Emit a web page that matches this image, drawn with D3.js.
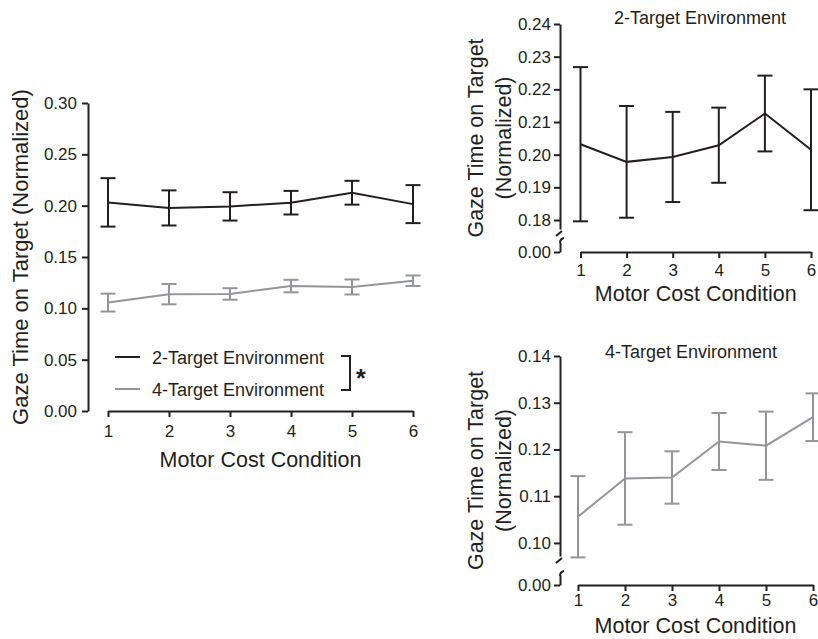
<!DOCTYPE html>
<html>
<head>
<meta charset="utf-8">
<script src="https://cdn.jsdelivr.net/npm/d3@7"></script>
<style>
  body { margin: 0; background: #fff; }
</style>
</head>
<body>
<script>
// data
var conditions = [1, 2, 3, 4, 5, 6];
var mean2 = [0.2032, 0.1978, 0.1993, 0.2029, 0.2126, 0.2015];
var err2  = [0.0236, 0.0171, 0.0138, 0.0115, 0.0116, 0.0185];
var mean4 = [0.1056, 0.1138, 0.1140, 0.1217, 0.1208, 0.1269];
var err4  = [0.0087, 0.0099, 0.0056, 0.0061, 0.0073, 0.0051];

var ticksLeft = [0, 0.05, 0.10, 0.15, 0.20, 0.25, 0.30];
var ticksTop = [0.18, 0.19, 0.20, 0.21, 0.22, 0.23, 0.24];
var ticksBottom = [0.10, 0.11, 0.12, 0.13, 0.14];

var black = "#231f20", grey = "#939598";
var font = "Liberation Sans, Arial, Helvetica, sans-serif";

var svg = d3.select("body").append("svg")
    .attr("width", 818)
    .attr("height", 639)
    .attr("font-family", font);

function series(m, e) {
  return conditions.map(function(c, i) { return {c: c, m: m[i], e: e[i]}; });
}

function label(g, txt, size) {
  return g.append("text")
      .attr("font-family", font)
      .attr("font-size", size)
      .attr("fill", black)
      .text(txt);
}

// draws a line with error bars
function drawSeries(g, data, x, y, color) {
  var line = d3.line()
      .x(function(d) { return x(d.c); })
      .y(function(d) { return y(d.m); });
  g.append("path")
      .datum(data)
      .attr("d", line)
      .attr("fill", "none")
      .attr("stroke", color)
      .attr("stroke-width", 2);

  var bars = g.selectAll(null).data(data).enter().append("g")
      .attr("stroke", color)
      .attr("stroke-width", 2);
  bars.append("line")
      .attr("x1", function(d) { return x(d.c); })
      .attr("x2", function(d) { return x(d.c); })
      .attr("y1", function(d) { return y(d.m - d.e); })
      .attr("y2", function(d) { return y(d.m + d.e); });
  [1, -1].forEach(function(s) {
    bars.append("line")
        .attr("x1", function(d) { return x(d.c) - 7.5; })
        .attr("x2", function(d) { return x(d.c) + 7.5; })
        .attr("y1", function(d) { return y(d.m + s * d.e); })
        .attr("y2", function(d) { return y(d.m + s * d.e); });
  });
}

function styleAxis(g, size) {
  g.selectAll("path, line").attr("stroke", black).attr("stroke-width", 2);
  g.selectAll("text").attr("font-family", font)
      .attr("font-size", size).attr("fill", black);
}

// ---------- left panel ----------
var xL = d3.scaleLinear().domain([1, 6]).range([108, 413]);
var yL = d3.scaleLinear().domain([0, 0.30]).range([411, 103]);

svg.append("g")
    .attr("transform", "translate(88,0)")
    .call(d3.axisLeft(yL).tickValues(ticksLeft).tickFormat(d3.format(".2f"))
      .tickSize(6).tickPadding(5).tickSizeOuter(0))
    .call(styleAxis, 17);

svg.append("g")
    .attr("transform", "translate(0,411)")
    .call(d3.axisBottom(xL).tickValues(conditions).tickFormat(d3.format("d"))
      .tickSize(6).tickPadding(8).tickSizeOuter(0))
    .call(styleAxis, 17);

drawSeries(svg.append("g"), series(mean2, err2), xL, yL, black);
drawSeries(svg.append("g"), series(mean4, err4), xL, yL, grey);

label(svg, "Gaze Time on Target (Normalized)", 22)
    .attr("transform", "translate(28,257) rotate(-90)")
    .attr("text-anchor", "middle");

label(svg, "Motor Cost Condition", 21.5)
    .attr("x", 260.5).attr("y", 467)
    .attr("text-anchor", "middle");

// legend
var legend = [{name: "2-Target Environment", color: black, y: 357},
              {name: "4-Target Environment", color: grey, y: 389}];
legend.forEach(function(d) {
  svg.append("line")
      .attr("x1", 115).attr("x2", 140)
      .attr("y1", d.y).attr("y2", d.y)
      .attr("stroke", d.color).attr("stroke-width", 2);
  label(svg, d.name, 18)
      .attr("x", 152).attr("y", d.y + 6.5);
});
svg.append("path")
    .attr("d", "M341,356 H350 V390 H341")
    .attr("fill", "none")
    .attr("stroke", black)
    .attr("stroke-width", 2);
label(svg, "*", 25)
    .attr("x", 356).attr("y", 387)
    .attr("font-weight", "bold");

// ---------- right panels (broken y axis) ----------
function brokenPanel(opt) {
  var g = svg.append("g");
  var x = d3.scaleLinear().domain([1, 6]).range(opt.xRange);
  var y = d3.scaleLinear().domain(opt.yDomain).range(opt.yRange);
  var yZero = d3.scaleLinear().domain([0, 1]).range([opt.zeroY, opt.zeroY - 10]);

  g.append("g")
      .attr("transform", "translate(560,0)")
      .call(d3.axisLeft(y).tickValues(opt.ticks).tickFormat(d3.format(".2f"))
        .tickSize(6).tickPadding(3).tickSizeOuter(0))
      .call(styleAxis, 17);
  g.append("g")
      .attr("transform", "translate(560,0)")
      .call(d3.axisLeft(yZero).tickValues([0]).tickFormat(d3.format(".2f"))
        .tickSize(6).tickPadding(3).tickSizeOuter(0))
      .call(styleAxis, 17);

  // break marks
  var yb = opt.yRange[0];
  g.append("path")
      .attr("d", "M556," + (yb + 7) + " L562," + (yb + 2))
      .attr("fill", "none").attr("stroke", black).attr("stroke-width", 2);
  g.append("path")
      .attr("d", "M560," + (opt.zeroY - 9) + " Q560," + (opt.zeroY - 13) + " 564," + (opt.zeroY - 14))
      .attr("fill", "none").attr("stroke", black).attr("stroke-width", 2);

  g.append("g")
      .attr("transform", "translate(0," + opt.zeroY + ")")
      .call(d3.axisBottom(x).tickValues(conditions).tickFormat(d3.format("d"))
        .tickSize(6).tickPadding(opt.xPad).tickSizeOuter(0))
      .call(styleAxis, 17);

  drawSeries(g.append("g"), opt.data, x, y, opt.color);

  label(g, opt.title, 18)
      .attr("x", opt.titleX).attr("y", opt.titleY)
      .attr("text-anchor", "middle");

  var cy = (opt.yRange[1] + opt.zeroY) / 2;
  label(g, "Gaze Time on Target", 21.5)
      .attr("transform", "translate(483," + cy + ") rotate(-90)")
      .attr("text-anchor", "middle");
  label(g, "(Normalized)", 21.5)
      .attr("transform", "translate(511," + cy + ") rotate(-90)")
      .attr("text-anchor", "middle");

  label(g, "Motor Cost Condition", 21.5)
      .attr("x", (opt.xRange[0] + opt.xRange[1]) / 2)
      .attr("y", opt.xTitleY)
      .attr("text-anchor", "middle");
}

brokenPanel({
  xRange: [580.5, 811],
  yDomain: [0.17725, 0.24], yRange: [229, 24],
  zeroY: 252, ticks: ticksTop, xPad: 6,
  data: series(mean2, err2), color: black,
  title: "2-Target Environment", titleX: 700, titleY: 24, xTitleY: 301
});

brokenPanel({
  xRange: [578, 813],
  yDomain: [0.0972, 0.14], yRange: [556, 356],
  zeroY: 585, ticks: ticksBottom, xPad: 3,
  data: series(mean4, err4), color: grey,
  title: "4-Target Environment", titleX: 691, titleY: 358, xTitleY: 633
});
</script>
</body>
</html>
